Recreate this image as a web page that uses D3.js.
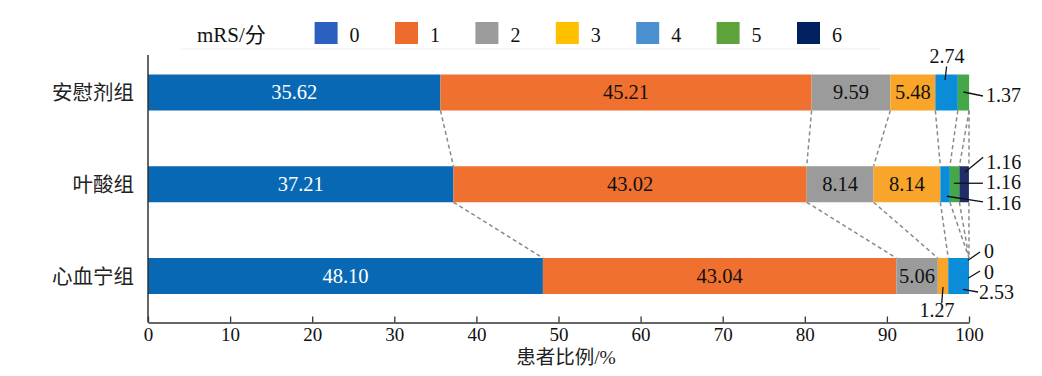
<!DOCTYPE html>
<html>
<head>
<meta charset="utf-8">
<script src="https://cdn.jsdelivr.net/npm/d3@7"></script>
<style>
  body { margin: 0; background: #fff; }
  svg text { font-family: "Liberation Serif", "Noto Sans CJK SC", serif; }
</style>
</head>
<body>
<div id="chart"></div>
<script>
// mRS grades and groups
const grades = ['0', '1', '2', '3', '4', '5', '6']
const groups = ['安慰剂组', '叶酸组', '心血宁组']
const placebo = [35.62, 45.21, 9.59, 5.48, 2.74, 1.37, 0]
const folicAcid = [37.21, 43.02, 8.14, 8.14, 1.16, 1.16, 1.16]
const xinxuening = [48.10, 43.04, 5.06, 1.27, 2.53, 0, 0]
const xTicks = [0, 10, 20, 30, 40, 50, 60, 70, 80, 90, 100]

const barColors = ['#0868b4', '#f07030', '#9b9b9b', '#f9a52a', '#0b8cd8', '#44a848', '#1f2e66']
const legendColors = ['#2b60c0', '#ec6b2d', '#9b9b9b', '#ffc000', '#4a90d0', '#5ea33a', '#002060']

const rows = groups.map((g, i) => {
  const vals = [placebo, folicAcid, xinxuening][i]
  let acc = 0
  const segs = vals.map((v, k) => {
    const s = { group: g, grade: k, value: v, x0: acc, x1: acc + v }
    acc += v
    return s
  })
  return { group: g, segs }
})

const width = 1042
const height = 376
const barH = 36

const x = d3.scaleLinear().domain([0, 100]).range([148, 969])
const y = d3.scalePoint().domain(groups).range([92.5, 276])
const fmt = (v) => (v === 0 ? '0' : d3.format('.2f')(v))

const svg = d3.select('#chart').append('svg')
  .attr('width', width)
  .attr('height', height)

// legend
const legend = svg.append('g').attr('class', 'legend')
legend.append('text')
  .attr('x', 197).attr('y', 41.5)
  .attr('font-size', 21)
  .attr('fill', '#111')
  .text('mRS/分')
const legItem = legend.selectAll('g.item')
  .data(grades)
  .join('g')
  .attr('class', 'item')
  .attr('transform', (d, i) => `translate(${314.6 + i * 80.4},22)`)
legItem.append('rect')
  .attr('width', 23).attr('height', 22)
  .attr('fill', (d, i) => legendColors[i])
legItem.append('text')
  .attr('x', 35).attr('y', 19.5)
  .attr('font-size', 20)
  .attr('fill', '#111')
  .text((d) => d)
svg.append('line')
  .attr('x1', 180).attr('x2', 880)
  .attr('y1', 49).attr('y2', 49)
  .attr('stroke', '#f0f0f0')

// dashed connectors between cumulative boundaries
const conn = svg.append('g').attr('class', 'connectors')
for (let r = 0; r < rows.length - 1; r++) {
  const a = rows[r], b = rows[r + 1]
  a.segs.forEach((s, k) => {
    conn.append('line')
      .attr('x1', x(s.x1)).attr('y1', y(a.group) + barH / 2)
      .attr('x2', x(b.segs[k].x1)).attr('y2', y(b.group) - barH / 2)
      .attr('stroke', '#8a8a8a')
      .attr('stroke-width', 1.5)
      .attr('stroke-dasharray', '4,3')
  })
}

// bars
const barG = svg.append('g').attr('class', 'bars')
rows.forEach((row) => {
  const g = barG.append('g')
  g.selectAll('rect')
    .data(row.segs.filter((s) => s.value > 0))
    .join('rect')
    .attr('x', (d) => x(d.x0))
    .attr('width', (d) => x(d.x1) - x(d.x0))
    .attr('y', y(row.group) - barH / 2)
    .attr('height', barH)
    .attr('fill', (d) => barColors[d.grade])
  g.selectAll('text')
    .data(row.segs.filter((s) => s.value >= 5))
    .join('text')
    .attr('x', (d) => x((d.x0 + d.x1) / 2))
    .attr('y', y(row.group) + 6.5)
    .attr('text-anchor', 'middle')
    .attr('font-size', 20.5)
    .attr('fill', (d) => (d.grade === 0 ? '#fff' : '#111'))
    .text((d) => fmt(d.value))
})

// small-value labels with leader lines:
// [group, grade, from dx, from dy, to dx, to dy, anchor, text dx, text dy] relative to segment centre
const callouts = [
  [0, 4, -1.5, -12.5, 0, -26, 'middle', 0.5, -29.5],
  [0, 5, 0, -0.5, 19.5, 3.5, 'start', 22.5, 9.5],
  [1, 6, 1, -12.3, 19, -27, 'start', 22, -15.5],
  [1, 5, -0.7, -1, 28.3, -1, 'start', 31.3, 5],
  [1, 4, 1.7, 12, 38, 17.7, 'start', 41, 25.5],
  [2, 6, -1, -15.7, 11, -24, 'start', 15, -18],
  [2, 5, -1, 2.3, 11, -5, 'start', 15, 2.5],
  [2, 4, 4.4, 13.3, 19.4, 16, 'start', 20.4, 23],
  [2, 3, 0, 11, -1.3, 27.3, 'middle', -6, 41]
]
const call = svg.append('g').attr('class', 'callouts')
callouts.forEach(([gi, k, fx, fy, tx, ty, anchor, lx, ly]) => {
  const s = rows[gi].segs[k]
  const cx = x((s.x0 + s.x1) / 2)
  const cy = y(rows[gi].group)
  call.append('line')
    .attr('x1', cx + fx).attr('y1', cy + fy)
    .attr('x2', cx + tx).attr('y2', cy + ty)
    .attr('stroke', '#111')
    .attr('stroke-width', 1.3)
  call.append('text')
    .attr('x', cx + lx).attr('y', cy + ly)
    .attr('text-anchor', anchor)
    .attr('font-size', 20)
    .attr('fill', '#111')
    .text(fmt(s.value))
})

// x axis
const xAxis = svg.append('g')
  .attr('transform', 'translate(0,322.5)')
  .call(d3.axisBottom(x).tickValues(xTicks).tickSizeInner(-6).tickSizeOuter(0).tickPadding(5))
xAxis.select('.domain').attr('stroke', '#333').attr('stroke-width', 1.5)
xAxis.selectAll('.tick line').attr('stroke', '#333').attr('stroke-width', 1.3)
xAxis.selectAll('.tick text')
  .attr('font-size', 19)
  .attr('fill', '#111')
  .attr('font-family', '"Liberation Serif", serif')

svg.append('text')
  .attr('x', 566).attr('y', 364)
  .attr('text-anchor', 'middle')
  .attr('font-size', 19.5)
  .attr('font-family', '"Noto Sans CJK SC", "Liberation Serif", serif')
  .attr('fill', '#222')
  .text('患者比例/%')

// y axis line and group labels
svg.append('line')
  .attr('x1', x(0)).attr('x2', x(0))
  .attr('y1', 55).attr('y2', 322.5)
  .attr('stroke', '#333').attr('stroke-width', 1.5)
svg.append('g').selectAll('text')
  .data(groups)
  .join('text')
  .attr('x', 134)
  .attr('y', (d) => y(d) + 7.5)
  .attr('text-anchor', 'end')
  .attr('font-size', 20.5)
  .attr('font-family', '"Noto Sans CJK SC", serif')
  .attr('fill', '#222')
  .text((d) => d)
</script>
</body>
</html>
